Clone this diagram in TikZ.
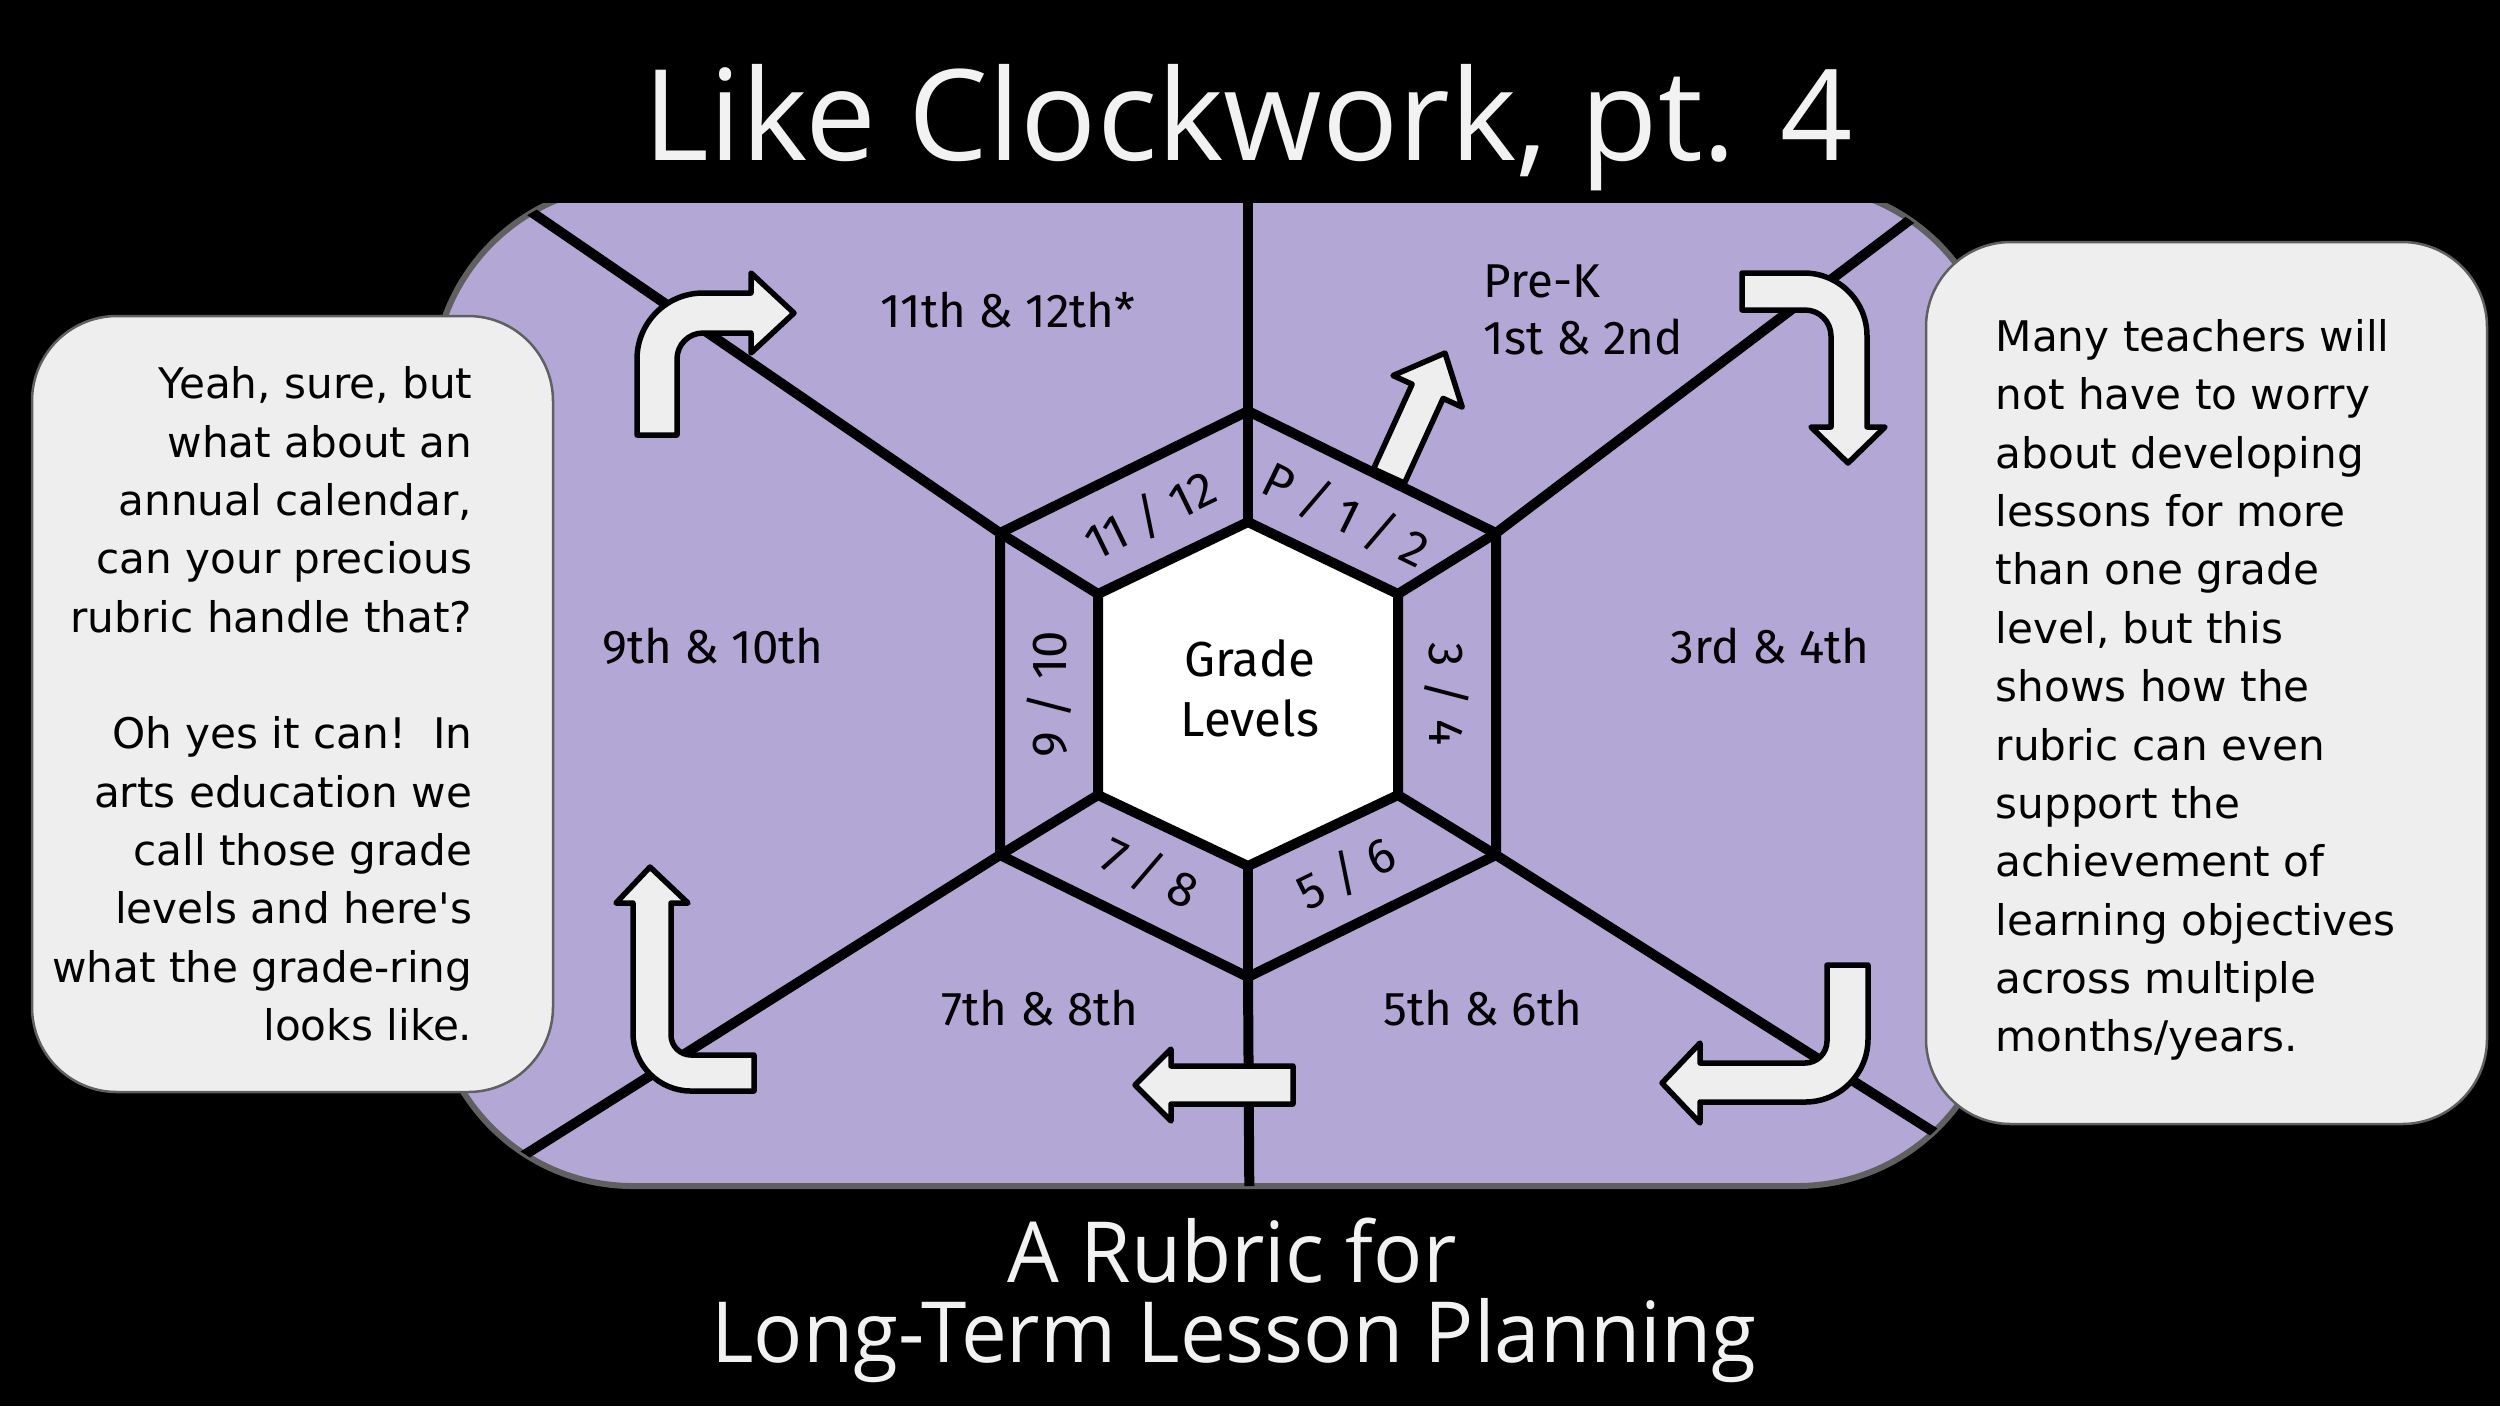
\documentclass[tikz,border=0pt]{standalone}
\usepackage{fontspec}
\setmainfont{Fira Sans}
\newfontfamily\titlefont{Open Sans}
\newfontfamily\subfont{Open Sans}[FakeStretch=0.97]
\newfontfamily\notefont{DejaVu Sans}
\usetikzlibrary{positioning}
\definecolor{rubricpurple}{RGB}{179,167,214}
\definecolor{paper}{RGB}{238,238,238}
\definecolor{rim}{RGB}{96,96,96}
\definecolor{chalk}{RGB}{242,242,242}

\begin{document}
\begin{tikzpicture}[x=0.1mm, y=-0.1mm,
   sep/.style={line width=1.0mm},
   note/.style={fill=paper, draw=rim, line width=0.25mm, rounded corners=8.5mm},
   turn/.style={fill=paper, draw=black, line width=0.55mm, line join=round},
   region/.style={font=\fontsize{13.5}{16.2}\selectfont, inner sep=0pt},
   ring/.style={font=\fontsize{14}{16}\selectfont, inner sep=0pt},
   notetext/.style={font=\notefont\fontsize{12}{16.6}\selectfont, inner sep=0pt},
   heading/.style={text=chalk, inner sep=0pt, anchor=base}]

  \useasboundingbox (0,0) rectangle (2500,1406);
  \fill[black] (0,0) rectangle (2500,1406);

  % the rubric plate
  \path[fill=rubricpurple, draw=rim, line width=0.6mm, rounded corners=20mm]
    (433,185) rectangle (1997,1186);

  \coordinate (o1) at (1248,411);  \coordinate (i1) at (1248,522);
  \coordinate (o2) at (1496,533);  \coordinate (i2) at (1398,594);
  \coordinate (o3) at (1496,855);  \coordinate (i3) at (1398,795);
  \coordinate (o4) at (1248,977);  \coordinate (i4) at (1248,866);
  \coordinate (o5) at (1000,855);  \coordinate (i5) at (1098,795);
  \coordinate (o6) at (1000,533);  \coordinate (i6) at (1098,594);

  \begin{scope}
    \clip[rounded corners=20mm] (433,185) rectangle (1997,1186);
    \draw[sep] (o1) -- (1248,100);
    \draw[sep] (o2) -- (2034,126);
    \draw[sep] (o3) -- (2065,1215);
    \draw[sep] (o4) -- (1250,1300);
    \draw[sep] (o5) -- (377,1248);
    \draw[sep] (o6) -- (384,111);
  \end{scope}
  \fill[black] (0,0) rectangle (2500,203);

  \draw[sep] (o1) -- (o2) -- (o3) -- (o4) -- (o5) -- (o6) -- cycle;
  \foreach \k in {1,...,6}
    \draw[sep] (i\k) -- (o\k);
  \draw[sep, fill=white] (i1) -- (i2) -- (i3) -- (i4) -- (i5) -- (i6) -- cycle;

  % turning arrows
  \draw[turn] (637,435) -- (637,359) .. controls (637,322.6) and (666.6,293) .. (703,293)
    -- (751,293) -- (751,273) -- (794,313) -- (751,353) -- (751,333) -- (703,333)
    .. controls (688.6,333) and (677,344.6) .. (677,359) -- (677,435) -- cycle;
  \draw[turn] (1742,273) -- (1804,273) .. controls (1838.8,273) and (1867,301.2) .. (1867,336)
    -- (1867,427) -- (1885,427) -- (1848,463) -- (1811,427) -- (1831,427) -- (1831,336)
    .. controls (1831,321.6) and (1819.4,310) .. (1805,310) -- (1742,310) -- cycle;
  \draw[turn] (1827,965) -- (1868,965) -- (1868,1039) .. controls (1868,1073.8) and (1839.8,1102) .. (1805,1102)
    -- (1700,1102) -- (1700,1123) -- (1662,1083) -- (1700,1043) -- (1700,1063) -- (1805,1063)
    .. controls (1817.1,1063) and (1827,1053.1) .. (1827,1041) -- cycle;
  \draw[turn] (754,1055) -- (691,1055) .. controls (680,1055) and (671,1046) .. (671,1035)
    -- (671,903) -- (688,903) -- (650,867) -- (616,903) -- (633,903) -- (633,1033)
    .. controls (633,1065) and (659,1091) .. (691,1091) -- (754,1091) -- cycle;
  \draw[turn] (1293,1066) -- (1171,1066) -- (1171,1049) -- (1135,1085) -- (1171,1121)
    -- (1171,1104) -- (1293,1104) -- cycle;
  \draw[turn] (1373.5,468.9) -- (1412.1,384.2) -- (1393,375.5) -- (1445,353)
    -- (1462.2,407.1) -- (1443.1,398.4) -- (1404.5,483.1) -- cycle;

  % grade regions
  \node[region] (g1112) at (1008,310) {11th \& 12th*};
  \node[region, anchor=west, align=left] (gpk) at (1483,310) {Pre-K\\1st \& 2nd};
  \node[region] (g910) at (713,646) {9th \& 10th};
  \node[region] (g34) at (1770,646) {3rd \& 4th};
  \node[region] (g78) at (1040,1008) {7th \& 8th};
  \node[region] (g56) at (1483,1008) {5th \& 6th};

  \node[ring, rotate=26] (r1112) at (1150,515) {11 / 12};
  \node[ring, rotate=-26] (rpk) at (1346,515) {P / 1 / 2};
  \node[ring, rotate=-90] (r34) at (1447,694) {3 / 4};
  \node[ring, rotate=26] (r56) at (1346,873) {5 / 6};
  \node[ring, rotate=-26] (r78) at (1150,873) {7 / 8};
  \node[ring, rotate=90] (r910) at (1049,694) {9 / 10};
  \node[ring, align=center, font=\fontsize{14}{17}\selectfont] (center) at (1250,688) {Grade\\Levels};

  % side notes
  \draw[note] (32,316) rectangle (553,1092);
  \draw[note] (1926,242) rectangle (2487,1124);
  \node[notetext, anchor=east, align=right] (leftnote) at (473,704)
    {Yeah, sure, but\\what about an\\annual calendar,\\can your precious\\rubric handle that?\\[16.6pt]
     Oh yes it can!\ \ In\\arts education we\\call those grade\\levels and here's\\what the grade-ring\\looks like.};
  \node[notetext, anchor=west, align=left] (rightnote) at (1995,690)
    {Many teachers will\\not have to worry\\about developing\\lessons for more\\than one grade\\level, but this\\shows how the\\rubric can even\\support the\\achievement of\\learning objectives\\across multiple\\months/years.};

  \node[heading, font=\titlefont\fontsize{36}{40}\selectfont] (title) at (1248,160) {Like Clockwork, pt. 4};
  \node[heading, font=\subfont\fontsize{24}{28}\selectfont] (sub1) at (1232,1282) {A Rubric for};
  \node[heading, font=\subfont\fontsize{24}{28}\selectfont] (sub2) at (1234,1362) {Long-Term Lesson Planning};
\end{tikzpicture}
\end{document}
